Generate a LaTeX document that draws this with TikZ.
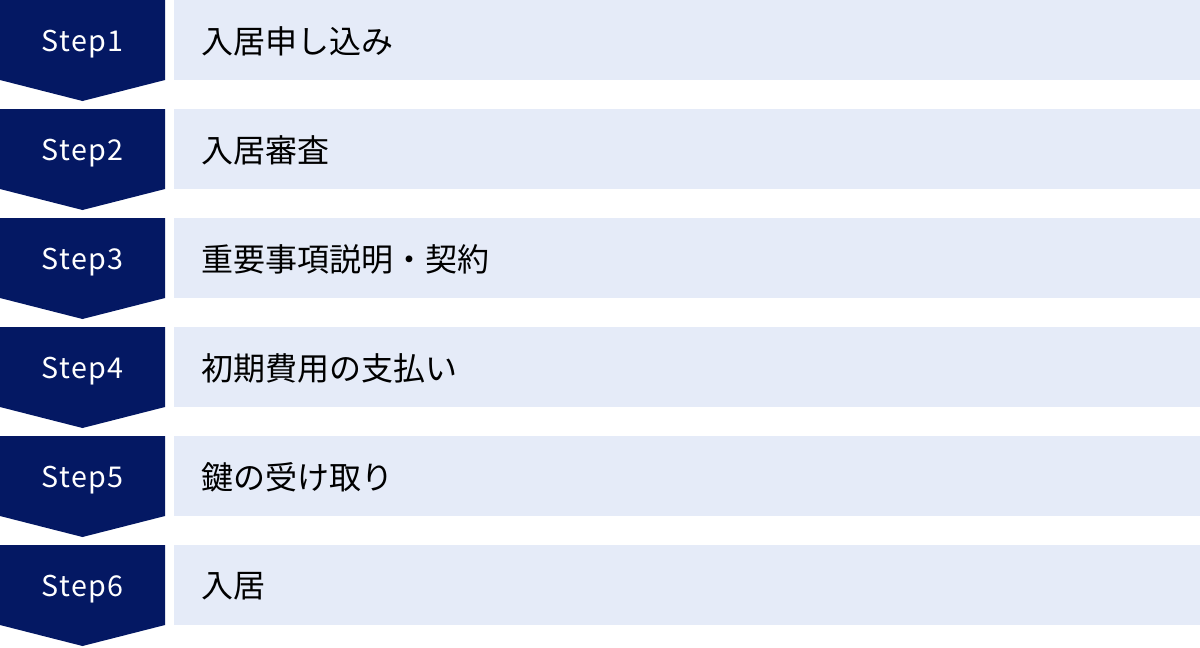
\documentclass[tikz,border=0pt]{standalone}
\usepackage{fontspec}
\setmainfont{Noto Sans CJK JP}
\newfontfamily\stepfont[LetterSpace=5]{Noto Sans CJK JP}
\usepackage{tikz}
\usetikzlibrary{positioning}
\usepackage{xcolor}
\definecolor{stepnavy}{RGB}{4,24,99}
\definecolor{rowblue}{RGB}{229,235,248}
\tikzstyle{steparrow}=[fill=stepnavy, draw=none]
\tikzstyle{steplabel}=[text=white, font=\stepfont\fontsize{21.5pt}{26pt}\selectfont, inner sep=0pt]
\tikzstyle{rowbox}=[fill=rowblue, draw=none]
\tikzstyle{rowlabel}=[text=black, anchor=west, font=\fontsize{24pt}{29pt}\selectfont, inner sep=0pt]

\begin{document}
\begin{tikzpicture}[x=0.75pt, y=-0.75pt]
            \useasboundingbox (0,0) rectangle (1200,647);
            % Step1
            \fill[steparrow] (0,0) -- (165,0) -- (165,80) -- (82.5,101) -- (0,80) -- cycle;
            \fill[rowbox] (174,0) rectangle (1200,80);
            \node (s1)[steplabel] at (82.5,44) {Step1};
            \node (t1)[rowlabel] at (201,41) {入居申し込み};
            % Step2
            \fill[steparrow] (0,109) -- (165,109) -- (165,189) -- (82.5,210) -- (0,189) -- cycle;
            \fill[rowbox] (174,109) rectangle (1200,189);
            \node (s2)[steplabel] at (82.5,153) {Step2};
            \node (t2)[rowlabel] at (201,150) {入居審査};
            % Step3
            \fill[steparrow] (0,218) -- (165,218) -- (165,298) -- (82.5,319) -- (0,298) -- cycle;
            \fill[rowbox] (174,218) rectangle (1200,298);
            \node (s3)[steplabel] at (82.5,262) {Step3};
            \node (t3)[rowlabel] at (201,259) {重要事項説明・契約};
            % Step4
            \fill[steparrow] (0,327) -- (165,327) -- (165,407) -- (82.5,428) -- (0,407) -- cycle;
            \fill[rowbox] (174,327) rectangle (1200,407);
            \node (s4)[steplabel] at (82.5,371) {Step4};
            \node (t4)[rowlabel] at (201,368) {初期費用の支払い};
            % Step5
            \fill[steparrow] (0,436) -- (165,436) -- (165,516) -- (82.5,537) -- (0,516) -- cycle;
            \fill[rowbox] (174,436) rectangle (1200,516);
            \node (s5)[steplabel] at (82.5,480) {Step5};
            \node (t5)[rowlabel] at (201,477) {鍵の受け取り};
            % Step6
            \fill[steparrow] (0,545) -- (165,545) -- (165,625) -- (82.5,646) -- (0,625) -- cycle;
            \fill[rowbox] (174,545) rectangle (1200,625);
            \node (s6)[steplabel] at (82.5,589) {Step6};
            \node (t6)[rowlabel] at (201,586) {入居};
        \end{tikzpicture}
\end{document}
